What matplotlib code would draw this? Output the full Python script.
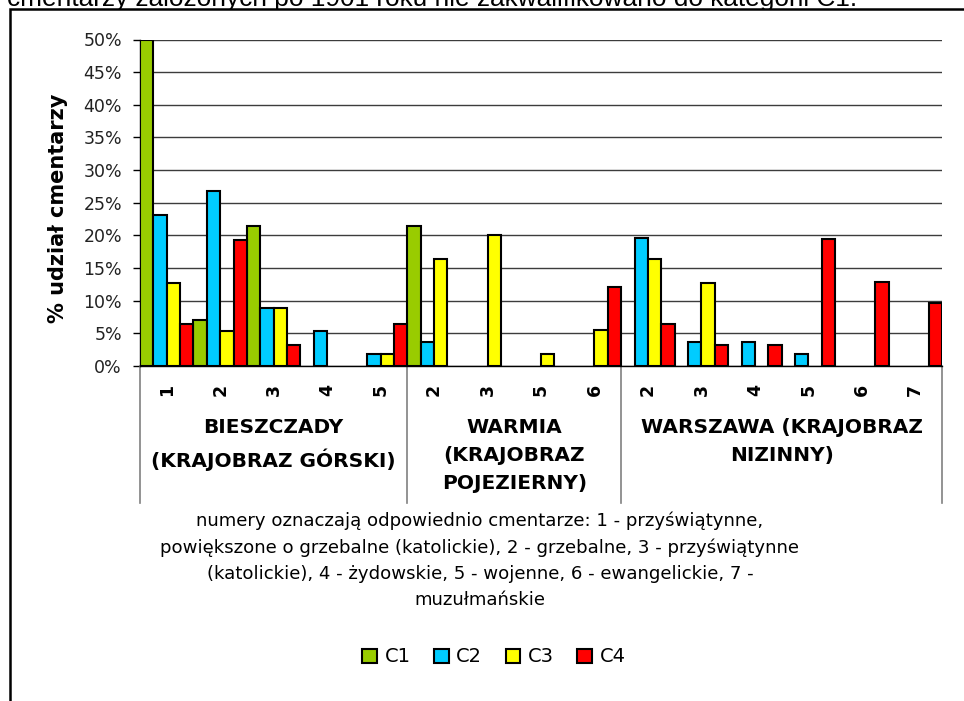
import numpy as np
import matplotlib
matplotlib.use('Agg')
import matplotlib.pyplot as plt
from matplotlib.patches import Rectangle
from matplotlib.lines import Line2D
from matplotlib.transforms import blended_transform_factory

nan = np.nan

# numery cmentarzy w kolejnych grupach
categories = ['1', '2', '3', '4', '5', '2', '3', '5', '6', '2', '3', '4', '5', '6', '7']
groups = ['BIESZCZADY\n(KRAJOBRAZ GÓRSKI)', 'WARMIA\n(KRAJOBRAZ\nPOJEZIERNY)', 'WARSZAWA (KRAJOBRAZ\nNIZINNY)']
group_sizes = [5, 4, 6]

series = ['C1', 'C2', 'C3', 'C4']
c1 = [50.0, 7.1, 21.4, nan, nan, 21.4, nan, nan, nan, nan, nan, nan, nan, nan, nan]
c2 = [23.2, 26.8, 8.9, 5.4, 1.8, 3.6, nan, nan, nan, 19.6, 3.6, 3.6, 1.8, nan, nan]
c3 = [12.7, 5.4, 8.9, nan, 1.8, 16.4, 20.0, 1.8, 5.5, 16.4, 12.7, nan, nan, nan, nan]
c4 = [6.5, 19.3, 3.2, nan, 6.5, nan, nan, nan, 12.1, 6.5, 3.2, 3.2, 19.4, 12.9, 9.7]
colors = ['#99CC00', '#00CCFF', '#FFFF00', '#FF0000']

title_note = ('numery oznaczają odpowiednio cmentarze: 1 - przyświątynne,\n'
              'powiększone o grzebalne (katolickie), 2 - grzebalne, 3 - przyświątynne\n'
              '(katolickie), 4 - żydowskie, 5 - wojenne, 6 - ewangelickie, 7 -\n'
              'muzułmańskie')
top_line = 'cmentarzy założonych po 1901 roku nie zakwalifikowano do kategorii C1.'

W, H = 964, 701


def fy(px):
    return 1 - px / H


plt.rcParams['font.family'] = ['DejaVu Sans']
fig = plt.figure(figsize=(W / 100, H / 100), dpi=100)

# tekst nad wykresem, przykryty ramka wykresu
fig.text(7 / W, fy(6), top_line, fontsize=18.9, family='Liberation Sans',
         ha='left', va='baseline', zorder=0.5)
fig.patches.append(Rectangle((9.5 / W, -0.2), 1.2, fy(9) + 0.2, transform=fig.transFigure,
                             facecolor='white', edgecolor='black', linewidth=1.8, zorder=0.8))

ax = fig.add_axes([140 / W, fy(366), (942 - 140) / W, (366 - 39.5) / H])
ax.set_zorder(2)
ax.patch.set_alpha(0)

x = np.arange(len(categories))
width = 0.25
handles = []
for k, (name, vals) in enumerate(zip(series, [c1, c2, c3, c4])):
    vals = np.array(vals, dtype=float)
    m = ~np.isnan(vals)
    b = ax.bar(x[m] + (k - 1.5) * width, vals[m], width, color=colors[k],
               edgecolor='black', linewidth=1.5, label=name, zorder=3)
    handles.append(b)

ax.set_xlim(-0.5, len(categories) - 0.5)
ax.set_ylim(0, 50)
ax.set_yticks(np.arange(0, 51, 5))
ax.set_yticklabels([f'{v}%' for v in range(0, 51, 5)])
ax.yaxis.grid(True, color='#3c3c3c', linewidth=1.0)
ax.set_axisbelow(True)
ax.tick_params(axis='y', direction='out', length=5, width=1, pad=8, labelsize=12.5,
               labelcolor='#222222')
ax.set_xticks([])
for s in ['top', 'right']:
    ax.spines[s].set_visible(False)
ax.spines['left'].set_linewidth(1.0)
ax.spines['bottom'].set_linewidth(1.0)

tr = blended_transform_factory(ax.transData, fig.transFigure)

# numery kategorii
for i, lab in enumerate(categories):
    ax.text(i, fy(390), lab, rotation=90, ha='center', va='center',
            fontsize=12.5, fontweight='bold', transform=tr, clip_on=False)

# podzial na grupy
edges = np.concatenate([[0], np.cumsum(group_sizes)]) - 0.5
for e in edges:
    ax.add_line(Line2D([e, e], [fy(366), fy(503)], transform=tr, color='#808080',
                       linewidth=1.2, clip_on=False))
for g, lo, hi in zip(groups, edges[:-1], edges[1:]):
    ax.text((lo + hi) / 2, fy(418), g, ha='center', va='top', fontsize=14.5,
            fontweight='bold', linespacing=1.6, transform=tr, clip_on=False)

fig.text(480 / W, fy(512), title_note, ha='center', va='top', fontsize=13.1,
         linespacing=1.56, zorder=3)

fig.text(58.5 / W, fy(208), '% udział cmentarzy', rotation=90, ha='center', va='center',
         fontsize=15, fontweight='bold', zorder=3)

fig.legend(handles=handles, labels=series, loc='center', bbox_to_anchor=(494 / W, fy(657)),
           ncol=4, frameon=False, fontsize=14, handlelength=0.75, handleheight=0.75,
           handletextpad=0.4, columnspacing=1.2)

fig.savefig('out.png', dpi=100)
